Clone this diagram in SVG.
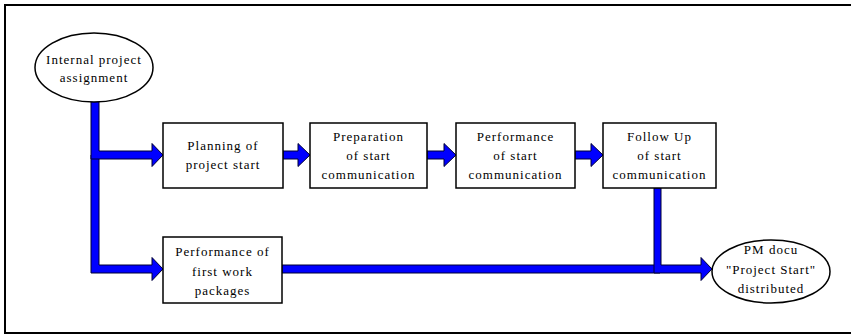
<svg xmlns="http://www.w3.org/2000/svg" width="851" height="336" viewBox="0 0 851 336">
  <style>
    .frame { fill: none; stroke: #000; stroke-width: 2; }
    .node { fill: #fff; stroke: #000; stroke-width: 1.5; }
    .flow { fill: #0000ff; stroke: #000033; stroke-width: 1; stroke-linejoin: miter; }
    .label { font-size: 13px; letter-spacing: 1px; fill: #000; text-anchor: middle; }
  </style>

  <rect x="0" y="0" width="851" height="336" fill="#fff"/>
  <rect class="frame" x="5" y="5" width="850" height="328"/>

  <!-- connectors: thick block arrows -->
  <g id="connectors">
    <!-- trunk down to the first work packages -->
    <polygon class="flow" points="91,155 99,155 99,265 152,265 152,257.5 163,269 152,280.5 152,273 91,273"/>
    <!-- assignment down to planning -->
    <polygon class="flow" points="91,100 99,100 99,151 152,151 152,143.5 163,155 152,166.5 152,159 91,159"/>
    <!-- planning to preparation -->
    <polygon class="flow" points="283,151 298,151 298,143.5 310,155 298,166.5 298,159 283,159"/>
    <!-- preparation to performance -->
    <polygon class="flow" points="427,151 444,151 444,143.5 456,155 444,166.5 444,159 427,159"/>
    <!-- performance to follow up -->
    <polygon class="flow" points="575,151 591,151 591,143.5 603,155 591,166.5 591,159 575,159"/>
    <!-- work packages towards the result -->
    <polygon class="flow" points="282,265 660,265 660,273 282,273"/>
    <!-- follow up down to the result -->
    <polygon class="flow" points="654,188 661,188 661,265 701,265 701,257.5 712,269 701,280.5 701,273 654,273"/>
  </g>

  <g font-family="'Liberation Serif', 'DejaVu Serif', serif">
    <g id="assignment">
      <ellipse class="node" cx="94" cy="67.5" rx="59" ry="34.5"/>
      <text class="label" x="94" y="64">Internal project</text>
      <text class="label" x="94" y="82">assignment</text>
    </g>

    <g id="planning">
      <rect class="node" x="163" y="123" width="120" height="65"/>
      <text class="label" x="223" y="150">Planning of</text>
      <text class="label" x="223" y="169">project start</text>
    </g>

    <g id="preparation">
      <rect class="node" x="310" y="123" width="117" height="65"/>
      <text class="label" x="368.5" y="140.5">Preparation</text>
      <text class="label" x="368.5" y="159.5">of start</text>
      <text class="label" x="368.5" y="179">communication</text>
    </g>

    <g id="performance">
      <rect class="node" x="456" y="123" width="119" height="65"/>
      <text class="label" x="515.5" y="140.5">Performance</text>
      <text class="label" x="515.5" y="159.5">of start</text>
      <text class="label" x="515.5" y="179">communication</text>
    </g>

    <g id="follow-up">
      <rect class="node" x="603" y="123" width="113" height="65"/>
      <text class="label" x="659.5" y="140.5">Follow Up</text>
      <text class="label" x="659.5" y="159.5">of start</text>
      <text class="label" x="659.5" y="179">communication</text>
    </g>

    <g id="work-packages">
      <rect class="node" x="163" y="237" width="119" height="66"/>
      <text class="label" x="222.5" y="256">Performance of</text>
      <text class="label" x="222.5" y="276">first work</text>
      <text class="label" x="222.5" y="295">packages</text>
    </g>

    <g id="pm-docu">
      <ellipse class="node" cx="771" cy="271.5" rx="59" ry="31.5"/>
      <text class="label" x="771" y="254">PM docu</text>
      <text class="label" x="771" y="273.5">"Project Start"</text>
      <text class="label" x="771" y="293">distributed</text>
    </g>
  </g>
</svg>
